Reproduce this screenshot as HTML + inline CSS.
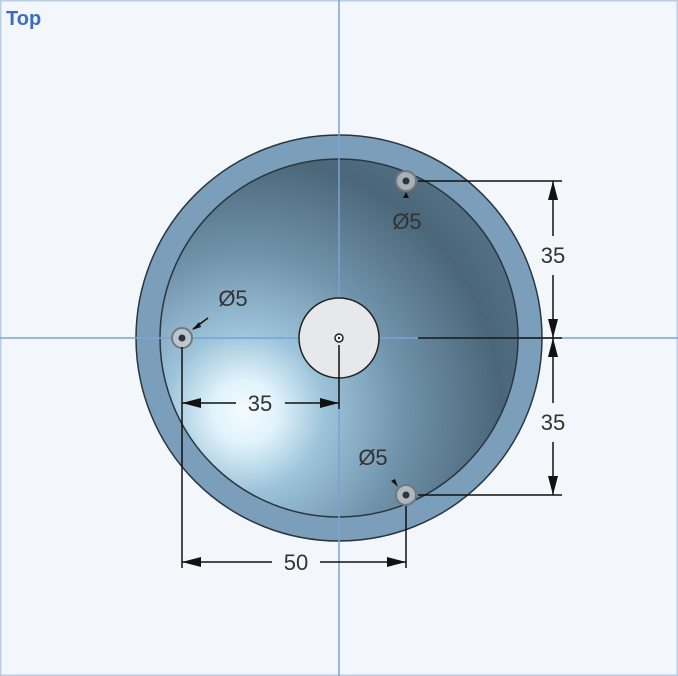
<!DOCTYPE html>
<html><head><style>
html,body{margin:0;padding:0;background:#f3f6fa;}
svg{display:block;font-family:"Liberation Sans",sans-serif;}
</style></head><body>
<svg width="678" height="676" viewBox="0 0 678 676">
<defs>
<radialGradient id="bowl" gradientUnits="userSpaceOnUse" cx="245" cy="412" r="320">
<stop offset="0" stop-color="#f4fbff"/>
<stop offset="0.1" stop-color="#e0f3fb"/>
<stop offset="0.25" stop-color="#9cc3da"/>
<stop offset="0.5" stop-color="#6f92aa"/>
<stop offset="0.8" stop-color="#4b6679"/>
<stop offset="1" stop-color="#56758a"/>
</radialGradient>
</defs>
<rect x="0.5" y="0.5" width="677" height="675" fill="#f3f6fa" stroke="#b8cfe6" stroke-width="2"/>
<text x="6" y="25" font-size="20" font-weight="bold" fill="#3c6cc4">Top</text>
<circle cx="339" cy="338" r="203" fill="#7b9fba" stroke="#2a3540" stroke-width="1.5"/>
<circle cx="339" cy="338" r="179" fill="url(#bowl)" stroke="#2a3540" stroke-width="1.5"/>
<line x1="339" y1="0" x2="339" y2="676" stroke="#79a3d6" stroke-width="1.5"/>
<line x1="0" y1="338" x2="678" y2="338" stroke="#79a3d6" stroke-width="1.5"/>
<circle cx="339" cy="338" r="40" fill="#e6e8ec" stroke="#222" stroke-width="1.5"/>
<circle cx="339" cy="338" r="4" fill="#fff" stroke="#222" stroke-width="1.5"/>
<circle cx="339" cy="338" r="1.2" fill="#222"/>
<g fill="#c9ced4" fill-opacity="0.7" stroke="#777" stroke-width="2">
<circle cx="182" cy="338" r="10"/>
<circle cx="406" cy="181" r="10"/>
<circle cx="406" cy="495" r="10"/>
</g>
<g fill="#333"><circle cx="182" cy="338" r="3.5"/><circle cx="406" cy="181" r="3.5"/><circle cx="406" cy="495" r="3.5"/></g>
<g stroke="#111" stroke-width="1.5" fill="none">
<line x1="418" y1="181" x2="562" y2="181"/>
<line x1="418" y1="338" x2="562" y2="338"/>
<line x1="418" y1="495" x2="562" y2="495"/>
<line x1="553" y1="181" x2="553" y2="236"/><line x1="553" y1="275" x2="553" y2="338"/>
<line x1="553" y1="338" x2="553" y2="403"/><line x1="553" y1="442" x2="553" y2="495"/>
<line x1="182" y1="347" x2="182" y2="568"/>
<line x1="339" y1="345" x2="339" y2="409"/>
<line x1="406" y1="506" x2="406" y2="568"/>
<line x1="182" y1="403" x2="236" y2="403"/><line x1="285" y1="403" x2="339" y2="403"/>
<line x1="182" y1="562" x2="272" y2="562"/><line x1="320" y1="562" x2="406" y2="562"/>
<line x1="193" y1="329" x2="208" y2="318"/>
</g>
<g fill="#111">
<polygon points="553,181 548,200 558,200"/><polygon points="553,338 548,319 558,319"/>
<polygon points="553,338 548,357 558,357"/><polygon points="553,495 548,476 558,476"/>
<polygon points="182,403 201,398 201,408"/><polygon points="339,403 320,398 320,408"/>
<polygon points="182,562 201,557 201,567"/><polygon points="406,562 387,557 387,567"/>
<polygon points="192,330 199,322 201,327"/>
<polygon points="406,192 403,198 409,198"/>
<polygon points="398,487 391,481 395,479"/>
</g>
<g font-size="22" fill="#333" text-anchor="middle">
<text x="553" y="263">35</text>
<text x="553" y="430">35</text>
<text x="260" y="411">35</text>
<text x="296" y="570">50</text>
<text x="233" y="306">Ø5</text>
<text x="407" y="229">Ø5</text>
<text x="373" y="465">Ø5</text>
</g>
</svg>
</body></html>
